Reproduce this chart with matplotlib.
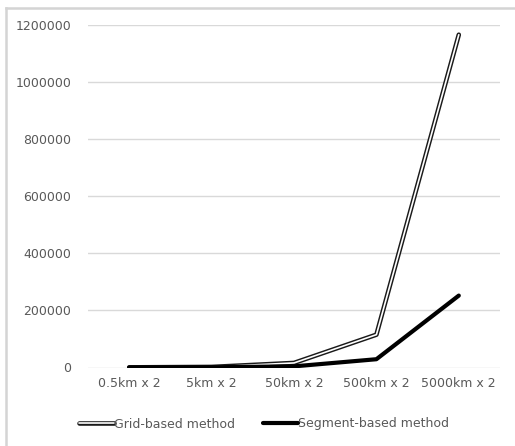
import matplotlib
matplotlib.use("Agg")
import matplotlib.pyplot as plt
import matplotlib.patheffects as pe
from matplotlib.lines import Line2D

# ==================== 数据 ====================
categories = ['0.5km x 2', '5km x 2', '50km x 2', '500km x 2', '5000km x 2']
grid_based = [500, 2000, 16000, 115000, 1166000]
segment_based = [300, 800, 4000, 29000, 252000]
y_ticks = [0, 200000, 400000, 600000, 800000, 1000000, 1200000]

W, H = 515, 446
fig = plt.figure(figsize=(W / 100, H / 100), dpi=100)
ax = fig.add_axes([88 / W, 1 - 367.5 / H, (500 - 88) / W, (367.5 - 25) / H])

x = list(range(len(categories)))

# 双线效果：黑色粗线外框 + 白色细线内芯
ax.plot(x, grid_based, color='white', linewidth=1.2, solid_capstyle='round',
        solid_joinstyle='round', label='Grid-based method',
        path_effects=[pe.Stroke(linewidth=3.3, foreground='#1a1a1a'), pe.Normal()], zorder=3)
ax.plot(x, segment_based, color='black', linewidth=3.0, solid_capstyle='round',
        solid_joinstyle='round', label='Segment-based method', zorder=4)

ax.set_xlim(-0.5, len(categories) - 0.5)
ax.set_ylim(0, 1200000)
ax.set_yticks(y_ticks)
ax.set_yticklabels([str(v) for v in y_ticks])
ax.set_xticks(x)
ax.set_xticklabels(categories)

ax.grid(axis='y', color='#d9d9d9', linewidth=1.0)
ax.set_axisbelow(True)
for s in ax.spines.values():
    s.set_visible(False)
ax.tick_params(axis='both', length=0, labelsize=9, colors='#595959')
ax.tick_params(axis='y', pad=12)
ax.tick_params(axis='x', pad=7)

fig.legend(loc='center', bbox_to_anchor=(264 / W, 1 - 424 / H), ncol=2, frameon=False,
           fontsize=9, handlelength=2.8, handletextpad=0.05, columnspacing=2.2,
           labelcolor='#595959')

# 图表外框（只露出左边和上边）
fig.add_artist(Line2D([6 / W, 6 / W], [0, 1 - 8 / H], transform=fig.transFigure,
                      color='#d4d4d4', linewidth=1.8))
fig.add_artist(Line2D([6 / W, 1], [1 - 8 / H, 1 - 8 / H], transform=fig.transFigure,
                      color='#d4d4d4', linewidth=1.8))

fig.savefig('out.png', dpi=100)
